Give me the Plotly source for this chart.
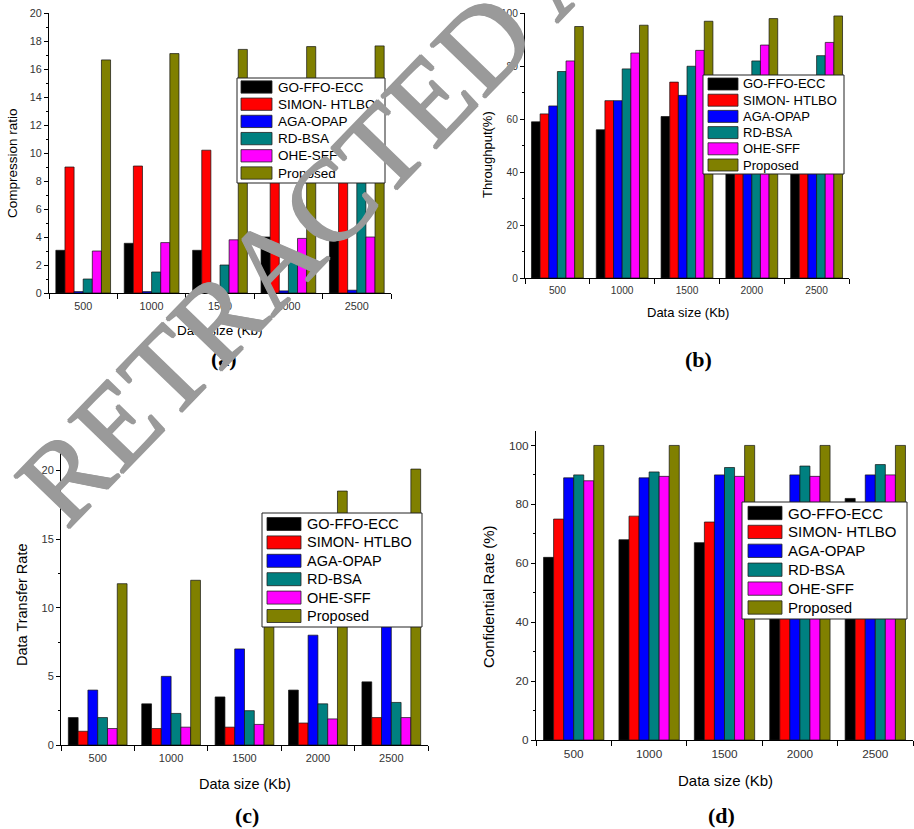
import plotly.graph_objects as go

W, H = 914, 829

# ---------------- data ----------------
data_sizes = [500, 1000, 1500, 2000, 2500]
tick_labels = ["500", "1000", "1500", "2000", "2500"]
methods = ["GO-FFO-ECC", "SIMON- HTLBO", "AGA-OPAP", "RD-BSA", "OHE-SFF", "Proposed"]
colors = ["#000000", "#FF0000", "#0000FF", "#008080", "#FF00FF", "#808000"]

# (a) Compression ratio
cr_go = [3.05, 3.55, 3.05, 4.0, 4.1]
cr_simon = [9.0, 9.07, 10.2, 10.4, 10.6]
cr_aga = [0.1, 0.1, 0.15, 0.15, 0.2]
cr_rd = [1.0, 1.5, 2.0, 2.6, 8.5]
cr_ohe = [3.0, 3.6, 3.8, 3.9, 4.0]
cr_prop = [16.65, 17.1, 17.4, 17.6, 17.65]

# (b) Throughput (%)
tp_go = [59, 56, 61, 63, 64]
tp_simon = [62, 67, 74, 75, 76]
tp_aga = [65, 67, 69, 72, 74]
tp_rd = [78, 79, 80, 82, 84]
tp_ohe = [82, 85, 86, 88, 89]
tp_prop = [95, 95.5, 97, 98, 99]

# (c) Data transfer rate
dt_go = [2.0, 3.0, 3.5, 4.0, 4.6]
dt_simon = [1.0, 1.2, 1.3, 1.6, 2.0]
dt_aga = [4.0, 5.0, 7.0, 8.0, 9.0]
dt_rd = [2.0, 2.3, 2.5, 3.0, 3.1]
dt_ohe = [1.2, 1.3, 1.5, 1.9, 2.0]
dt_prop = [11.75, 12.0, 15.0, 18.5, 20.1]

# (d) Confidential rate (%)
cf_go = [62, 68, 67, 70, 82]
cf_simon = [75, 76, 74, 75, 77]
cf_aga = [89, 89, 90, 90, 90]
cf_rd = [90, 91, 92.5, 93, 93.5]
cf_ohe = [88, 89.5, 89.5, 89.5, 90]
cf_prop = [100, 100, 100, 100, 100]

panels = [
    dict(series=[cr_go, cr_simon, cr_aga, cr_rd, cr_ohe, cr_prop],
         ytitle="Compression ratio", yrange=[0, 20], dtick=2,
         px=(49, 391, 13, 293), tickfont=10.8, titlefont=13.5,
         xt=(220, 330), yt=(12, 163), lab="(a)", labpos=(224, 358),
         leg=dict(box=(237, 78, 385, 183), row0=87, dy=17.2, sw=(241, 272), sh=12.3, tx=276, fs=13.5)),
    dict(series=[tp_go, tp_simon, tp_aga, tp_rd, tp_ohe, tp_prop],
         ytitle="Throughput(%)", yrange=[0, 100], dtick=20,
         px=(525, 849, 13.3, 278), tickfont=10.2, titlefont=13,
         xt=(688, 313), yt=(487, 154), lab="(b)", labpos=(698, 360),
         leg=dict(box=(703, 75, 844, 174), row0=84, dy=16.2, sw=(708, 738), sh=12, tx=741, fs=13)),
    dict(series=[dt_go, dt_simon, dt_aga, dt_rd, dt_ohe, dt_prop],
         ytitle="Data Transfer Rate", yrange=[0, 22], dtick=5,
         px=(61, 428, 443, 745), tickfont=11, titlefont=14.5,
         xt=(245, 784), yt=(22, 605), lab="(c)", labpos=(247, 815),
         leg=dict(box=(262, 513, 422, 627), row0=524, dy=18.4, sw=(267, 301), sh=13, tx=305, fs=14.5)),
    dict(series=[cf_go, cf_simon, cf_aga, cf_rd, cf_ohe, cf_prop],
         ytitle="Confidential Rate (%)", yrange=[0, 105], dtick=20,
         px=(536, 913, 430.7, 740), tickfont=11.8, titlefont=15,
         xt=(725, 780), yt=(488, 597), lab="(d)", labpos=(721, 815),
         leg=dict(box=(742, 502, 907, 619), row0=513, dy=18.9, sw=(748, 782), sh=13.3, tx=786, fs=15)),
]


def fx(x):
    return x / W


def fy(y):
    return 1 - y / H


SANS = "Liberation Sans, Arial, sans-serif"
SERIF = "Liberation Serif, Times New Roman, serif"

fig = go.Figure()
shapes = []
annotations = []

half = (data_sizes[1] - data_sizes[0]) / 2
boundaries = [data_sizes[0] - half] + [v + half for v in data_sizes]

for i, p in enumerate(panels):
    n = "" if i == 0 else str(i + 1)
    xa, ya = "x" + n, "y" + n
    for name, color, vals in zip(methods, colors, p["series"]):
        fig.add_trace(go.Bar(
            x=data_sizes, y=vals, name=name, xaxis=xa, yaxis=ya,
            marker=dict(color=color, line=dict(color="#111111", width=0.7)),
            showlegend=False, offsetgroup=name,
        ))
    x0, x1, y0, y1 = p["px"]
    fig.layout["xaxis" + n] = dict(
        domain=[fx(x0), fx(x1)], anchor=ya, range=[boundaries[0], boundaries[-1]],
        automargin=False,
        tickmode="array", tickvals=data_sizes, ticktext=tick_labels, ticks="",
        ticklabelstandoff=3,
        showline=True, linecolor="black", linewidth=1, showgrid=False, zeroline=False,
        tickfont=dict(family=SANS, size=p["tickfont"], color="#333333"),
        minor=dict(tickmode="array", tickvals=boundaries, ticks="outside", ticklen=5,
                   tickcolor="black", tickwidth=1, showgrid=False),
    )
    fig.layout["yaxis" + n] = dict(
        domain=[fy(y1), fy(y0)], anchor=xa, range=p["yrange"],
        automargin=False,
        tickmode="linear", tick0=0, dtick=p["dtick"], ticks="outside", ticklen=4,
        tickcolor="black", showline=True, linecolor="black", linewidth=1,
        showgrid=False, zeroline=False,
        tickfont=dict(family=SANS, size=p["tickfont"], color="#333333"),
        minor=dict(dtick=p["dtick"] / 2, tick0=0, ticks="outside", ticklen=2.5,
                   tickcolor="black", showgrid=False),
    )
    # axis titles
    annotations.append(dict(text="Data size (Kb)", x=fx(p["xt"][0]), y=fy(p["xt"][1]),
                            xref="paper", yref="paper", showarrow=False,
                            xanchor="center", yanchor="middle",
                            font=dict(family=SANS, size=p["titlefont"], color="black")))
    annotations.append(dict(text=p["ytitle"], x=fx(p["yt"][0]), y=fy(p["yt"][1]),
                            xref="paper", yref="paper", showarrow=False, textangle=-90,
                            xanchor="center", yanchor="middle",
                            font=dict(family=SANS, size=p["titlefont"], color="black")))
    # panel label
    annotations.append(dict(text="<b>" + p["lab"] + "</b>", x=fx(p["labpos"][0]), y=fy(p["labpos"][1]),
                            xref="paper", yref="paper", showarrow=False,
                            xanchor="center", yanchor="middle",
                            font=dict(family=SERIF, size=22, color="black")))
    # legend
    lg = p["leg"]
    bx0, by0, bx1, by1 = lg["box"]
    shapes.append(dict(type="rect", xref="paper", yref="paper", layer="above",
                       x0=fx(bx0), x1=fx(bx1), y0=fy(by1), y1=fy(by0),
                       fillcolor="white", line=dict(color="#222222", width=1)))
    for k, (name, color) in enumerate(zip(methods, colors)):
        cy = lg["row0"] + k * lg["dy"]
        shapes.append(dict(type="rect", xref="paper", yref="paper", layer="above",
                           x0=fx(lg["sw"][0]), x1=fx(lg["sw"][1]),
                           y0=fy(cy + lg["sh"] / 2), y1=fy(cy - lg["sh"] / 2),
                           fillcolor=color, line=dict(color="#222222", width=0.8)))
        annotations.append(dict(text=name, x=fx(lg["tx"]), y=fy(cy), xref="paper", yref="paper",
                                showarrow=False, xanchor="left", yanchor="middle",
                                font=dict(family=SANS, size=lg["fs"], color="black")))

# watermark
wm_gray = "#9a9a9a"
annotations.append(dict(text="RETRACTED ARTICLE", x=fx(451), y=fy(77), xref="paper", yref="paper",
                        showarrow=False, textangle=-46, xanchor="center", yanchor="middle",
                        font=dict(family=SERIF, size=116, color=wm_gray,
                                  shadow="1px 0 0 %s, -1px 0 0 %s, 0 1px 0 %s, 0 -1px 0 %s"
                                         % (wm_gray, wm_gray, wm_gray, wm_gray))))

fig.update_layout(
    width=W, height=H, margin=dict(l=0, r=0, t=0, b=0, autoexpand=False),
    paper_bgcolor="white", plot_bgcolor="white",
    barmode="group", bargap=0.2, bargroupgap=0,
    showlegend=False, shapes=shapes, annotations=annotations,
)

fig.write_html("out.html", config={"displayModeBar": False},
               post_script="document.body.style.margin='0';document.body.style.overflow='hidden';")
